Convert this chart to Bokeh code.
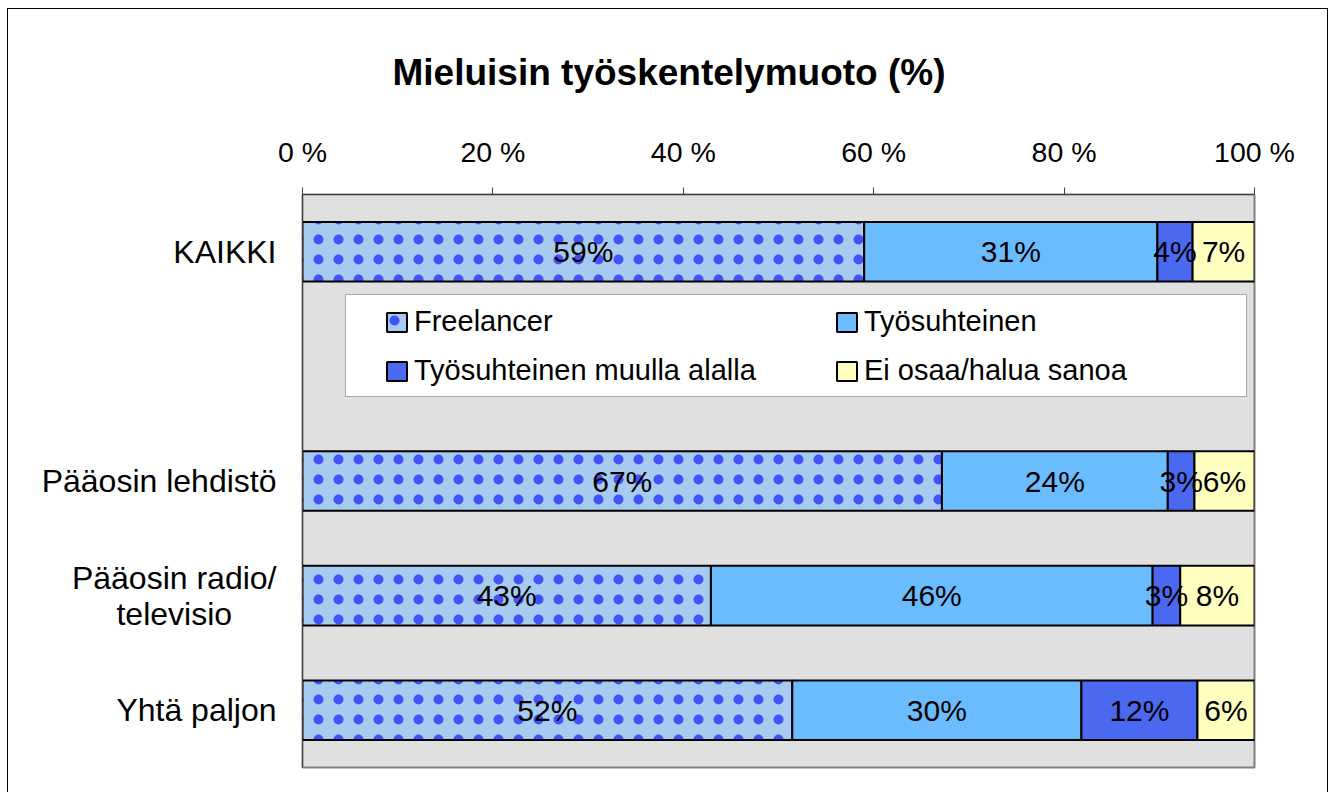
from bokeh.plotting import figure
from bokeh.models import (FactorRange, Range1d, FixedTicker, Legend, LegendItem,
                          BoxAnnotation, ColumnDataSource)
from bokeh.embed import file_html
from bokeh.resources import INLINE
from bokeh.core.properties import value

# ---------------- data ----------------
title_text = "Mieluisin työskentelymuoto (%)"
categories = ["KAIKKI", "Pääosin lehdistö", "Pääosin radio/\ntelevisio\u00a0\u00a0\u00a0\u00a0\u00a0", "Yhtä paljon"]
series_names = ["Freelancer", "Työsuhteinen", "Työsuhteinen muulla alalla", "Ei osaa/halua sanoa"]
freelancer = [59.0, 67.1, 42.9, 51.5]
tyosuhteinen = [30.8, 23.7, 46.4, 30.4]
muulla_alalla = [3.7, 2.8, 2.9, 12.2]
ei_osaa = [6.5, 6.3, 7.8, 6.0]
tick_values = [0, 20, 40, 60, 80, 100]
tick_labels = ["0 %", "20 %", "40 %", "60 %", "80 %", "100 %"]

# ---------------- styles ----------------
FONT = "Liberation Sans"
fills = ["#A6CAF0", "#6ABCFF", "#4B68F0", "#FFFFC0"]
hatches = [dict(hatch_pattern="dot", hatch_color="#0000FF", hatch_scale=20,
                hatch_weight=0.1, hatch_alpha=0.6),
           {}, {}, {}]

gap = " "
factors = list(reversed([categories[0], gap] + categories[1:]))

p = figure(width=1321, height=784,
           x_range=Range1d(0, 100), y_range=FactorRange(factors=factors),
           x_axis_location="above",
           output_backend="svg", toolbar_location=None,
           min_border_left=294, min_border_right=75,
           min_border_top=185, min_border_bottom=26)
p.styles = {"border-left": "1px solid black", "border-top": "1px solid black",
            "border-right": "1px solid black", "margin-left": "7px", "margin-top": "8px"}

p.background_fill_color = "#E0E0E0"
p.border_fill_color = "white"
p.outline_line_color = "#808080"
p.outline_line_width = 2
p.xgrid.visible = False
p.ygrid.visible = False

# title
p.title.text = title_text
p.title.align = "left"
p.title.offset = 90
p.title.standoff = 80
p.title.text_font = FONT
p.title.text_font_style = "bold"
p.title.text_font_size = "37px"
p.title.text_color = "black"

series = [freelancer, tyosuhteinen, muulla_alalla, ei_osaa]
totals = [sum(v) for v in zip(*series)]

left = [0.0] * len(categories)
sources = []
items = []
for name, vals, fill, h in zip(series_names, series, fills, hatches):
    right = [a + v / t * 100 for a, v, t in zip(left, vals, totals)]
    src = ColumnDataSource(dict(
        y=categories, left=left, right=right,
        mid=[(a + b) / 2 for a, b in zip(left, right)],
        label=[f"{int(v + 0.5)}%" for v in vals]))
    r = p.hbar(y="y", left="left", right="right", height=0.52, source=src,
               fill_color=fill, line_color="black", line_width=2, **h)
    items.append(LegendItem(label=name, renderers=[r]))
    sources.append(src)
    left = right

for src in sources:
    p.text(x="mid", y="y", text="label", source=src,
           text_font=value(FONT), text_font_size="30px",
           text_align="center", text_baseline="middle", text_color="black")

# legend box
p.add_layout(BoxAnnotation(left=4.52, right=99.16, top=4.127, bottom=3.237,
                           fill_color="white", fill_alpha=1.0,
                           line_color="black", line_width=1))
legend = Legend(items=items, orientation="horizontal", ncols=2,
                location=(82, 380), padding=0, margin=0, spacing=16,
                glyph_width=25, glyph_height=24, label_standoff=5,
                label_width=404, label_height=33,
                label_text_font=FONT, label_text_font_size="29px",
                label_text_color="black",
                border_line_color=None, background_fill_alpha=0)
p.add_layout(legend)

# axes
xa = p.xaxis[0]
xa.ticker = FixedTicker(ticks=tick_values)
xa.major_label_overrides = dict(zip(tick_values, tick_labels))
xa.minor_tick_line_color = None
xa.major_tick_out = 7
xa.major_tick_in = 0
xa.axis_line_color = "#404040"
xa.major_tick_line_color = "#404040"
xa.major_label_text_font = FONT
xa.major_label_text_font_size = "28.5px"
xa.major_label_text_color = "black"
xa.major_label_standoff = 20

ya = p.yaxis[0]
ya.axis_line_color = "#404040"
ya.major_tick_line_color = None
ya.minor_tick_line_color = None
ya.major_tick_out = 0
ya.major_tick_in = 0
ya.major_label_standoff = 26
ya.major_label_text_font = FONT
ya.major_label_text_font_size = "32px"
ya.major_label_text_color = "black"
ya.major_label_text_line_height = 1.0

open("out.html", "w").write(file_html(p, INLINE))
